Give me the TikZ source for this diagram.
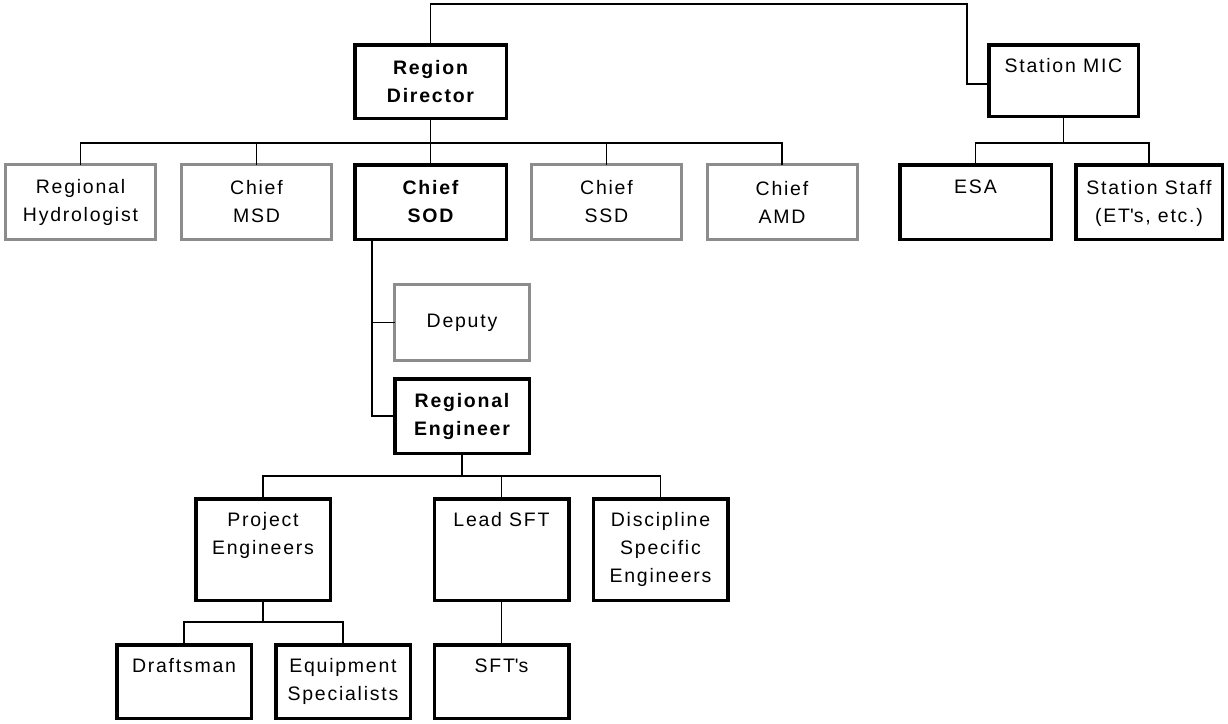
\documentclass[tikz,border=0pt]{standalone}
\usepackage{fontspec}
\setmainfont{Liberation Sans}[LetterSpace=9]
\definecolor{boxgray}{RGB}{140,140,140}
\begin{document}
\begin{tikzpicture}[x=1pt,y=-1pt,
  every node/.style={inner sep=0pt, outer sep=0pt},
  lbl/.style={font=\fontsize{19.5}{28}\selectfont, align=center, text=black},
  bold/.style={font=\fontsize{19.5}{28}\selectfont\bfseries},
  bk/.style={draw=black, line width=3.5pt, fill=white, lbl},
  gy/.style={draw=boxgray, line width=3pt, fill=white, lbl},
  conn/.style={draw=black, line width=1.3pt}]
\useasboundingbox (0,0) rectangle (1228,723);
\fill[white] (0,0) rectangle (1228,723);

% top level
\node[bk, bold, minimum width=151.5pt, minimum height=73.5pt] (rd) at (430.5,81.5) {Region\\Director};
\node[bk, minimum width=149.5pt, minimum height=71.5pt] (smic) at (1063.5,80.5) {};
\node[lbl, anchor=north] (smict) at ([yshift=-13.5pt]smic.north) {Station MIC};

% row 2
\node[gy, minimum width=150pt, minimum height=75pt] (hyd) at (80.5,202) {Regional\\Hydrologist};
\node[gy, minimum width=150pt, minimum height=75pt] (msd) at (256.5,202) {Chief\\MSD};
\node[bk, bold, minimum width=151.5pt, minimum height=74.5pt] (sod) at (430.5,202) {Chief\\SOD};
\node[gy, minimum width=150pt, minimum height=75pt] (ssd) at (606.5,202) {Chief\\SSD};
\node[gy, minimum width=150pt, minimum height=75pt] (amd) at (782,202) {Chief\\AMD};
\node[bk, minimum width=151.5pt, minimum height=74.5pt] (esa) at (975.5,202) {};
\node[lbl, anchor=north] (esat) at ([yshift=-15.5pt]esa.north) {ESA};
\node[bk, minimum width=146.5pt, minimum height=74.5pt] (staff) at (1149,202) {};
\node[lbl, anchor=north] (stafft) at ([yshift=-15.5pt]staff.north) {Station Staff\\(ET\textquotesingle s, etc.)};

% SOD branch
\node[gy, minimum width=135pt, minimum height=76pt] (dep) at (462,322.5) {Deputy};
\node[bk, bold, minimum width=134.5pt, minimum height=74.5pt] (re) at (462,416) {Regional\\Engineer};

% row 4
\node[bk, minimum width=134.5pt, minimum height=101.5pt] (pe) at (263,549.5) {};
\node[lbl, anchor=north] (pet) at ([yshift=-14pt]pe.north) {Project\\Engineers};
\node[bk, minimum width=134.5pt, minimum height=101.5pt] (lead) at (501.5,549.5) {};
\node[lbl, anchor=north] (leadt) at ([yshift=-14pt]lead.north) {Lead SFT};
\node[bk, minimum width=134.5pt, minimum height=101.5pt] (dse) at (660.5,549.5) {};
\node[lbl, anchor=north] (dset) at ([yshift=-14pt]dse.north) {Discipline\\Specific\\Engineers};

% row 5
\node[bk, minimum width=134.5pt, minimum height=73.5pt] (dr) at (184,681.5) {};
\node[lbl, anchor=north] (drt) at ([yshift=-14pt]dr.north) {Draftsman};
\node[bk, minimum width=134.5pt, minimum height=73.5pt] (eq) at (343,681.5) {};
\node[lbl, anchor=north] (eqt) at ([yshift=-14pt]eq.north) {Equipment\\Specialists};
\node[bk, minimum width=134.5pt, minimum height=73.5pt] (sfts) at (501.5,681.5) {};
\node[lbl, anchor=north] (sftst) at ([yshift=-14pt]sfts.north) {SFT\textquotesingle s};

% connectors
\coordinate (topc) at (967,4);
\coordinate (bus2) at (430.5,143);
\coordinate (bus3) at (1063.5,143);
\coordinate (sodx) at (372,240);
\coordinate (bus4) at (462,476);
\coordinate (bus5) at (263,622);

\draw[conn] (rd.north) |- (topc) |- ([yshift=-3.5pt]smic.west);
\draw[conn] (rd.south) -- (bus2);
\draw[conn] (hyd.north) |- (bus2) -| (amd.north);
\draw[conn] (msd.north) -- (msd.north |- bus2);
\draw[conn] (sod.north) -- (bus2);
\draw[conn] (ssd.north) -- (ssd.north |- bus2);
\draw[conn] (smic.south) -- (bus3);
\draw[conn] (esa.north) |- (bus3) -| (staff.north);
\draw[conn] (sodx) |- (re.west);
\draw[conn] (sodx |- dep.west) -- (dep.west);
\draw[conn] (re.south) -- (bus4);
\draw[conn] (pe.north) |- (bus4) -| (dse.north);
\draw[conn] (lead.north) -- (lead.north |- bus4);
\draw[conn] (pe.south) -- (bus5);
\draw[conn] (dr.north) |- (bus5) -| (eq.north);
\draw[conn] (lead.south) -- (sfts.north);
\end{tikzpicture}
\end{document}
